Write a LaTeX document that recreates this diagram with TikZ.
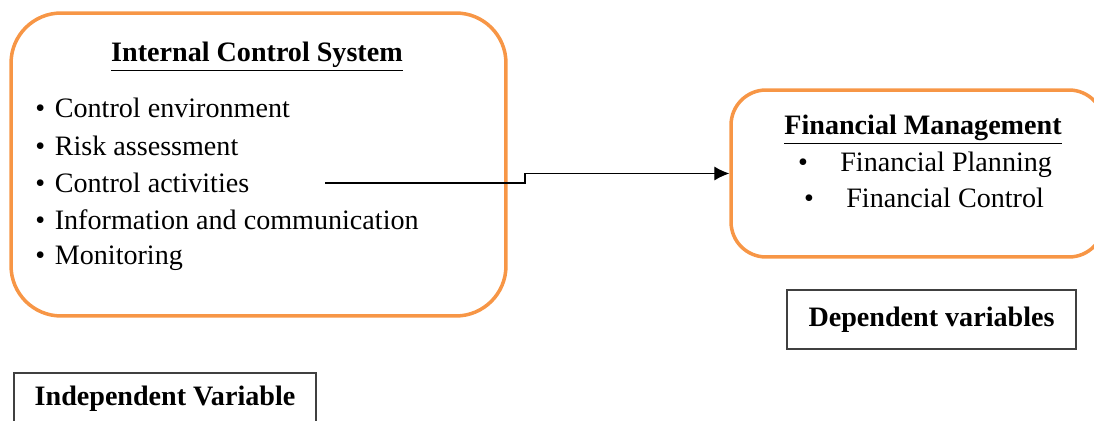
\documentclass[tikz,border=0pt]{standalone}
\usepackage{fontspec}
\setmainfont{Liberation Serif}
\usetikzlibrary{arrows.meta}
\definecolor{boxorange}{RGB}{247,150,70}

\begin{document}
\begin{tikzpicture}[x=0.02cm,y=-0.02cm,
    font=\fontsize{16}{19}\selectfont,
    bigbox/.style={draw=boxorange,line width=2pt},
    varbox/.style={draw=black!75,line width=0.8pt,font=\fontsize{16}{19}\selectfont\bfseries},
    item/.style={anchor=base west,inner sep=0pt},
    head/.style={anchor=base,inner sep=0pt,font=\fontsize{16}{19}\selectfont\bfseries}]
  \clip (0,0) rectangle (1094,421);
  % independent side
  \node [bigbox,rounded corners=1cm,minimum width=9.9cm,minimum height=6.06cm] (ics) at (258.5,164.5) {};
  \node [head] (icstitle) at (257,62) {\underline{Internal Control System}};
  \node [item] (env) at (35,118) {•\hspace{5.5pt}Control environment};
  \node [item] (risk) at (35,156) {•\hspace{5.5pt}Risk assessment};
  \node [item] (act) at (35,193) {•\hspace{5.5pt}Control activities};
  \node [item] (info) at (35,230) {•\hspace{5.5pt}Information and communication};
  \node [item] (mon) at (35,265) {•\hspace{5.5pt}Monitoring};
  \coordinate (start) at (325,183);
  % dependent side
  \node [bigbox,rounded corners=0.7cm,minimum width=7.46cm,minimum height=3.34cm] (fm) at (917.5,173.5) {};
  \node [head] (fmtitle) at (923,135) {\underline{Financial Management}};
  \node [item] (plan) at (840,172) {Financial Planning};
  \node [anchor=base,inner sep=0pt] (planbul) at (803,172) {•};
  \node [item] (ctrl) at (846,208) {Financial Control};
  \node [anchor=base,inner sep=0pt] (ctrlbul) at (809,208) {•};
  % variable labels
  \node [varbox,minimum width=5.78cm,minimum height=1.18cm] (dep) at (931.5,319.5) {Dependent variables};
  \node [varbox,minimum width=6.04cm,minimum height=1.02cm] (indep) at (165,398.5) {Independent Variable};
  \draw [-{Latex[length=8.5pt,width=8pt]},line width=0.6pt] (start) -- ++(200,0) |- (fm.west);
\end{tikzpicture}
\end{document}
